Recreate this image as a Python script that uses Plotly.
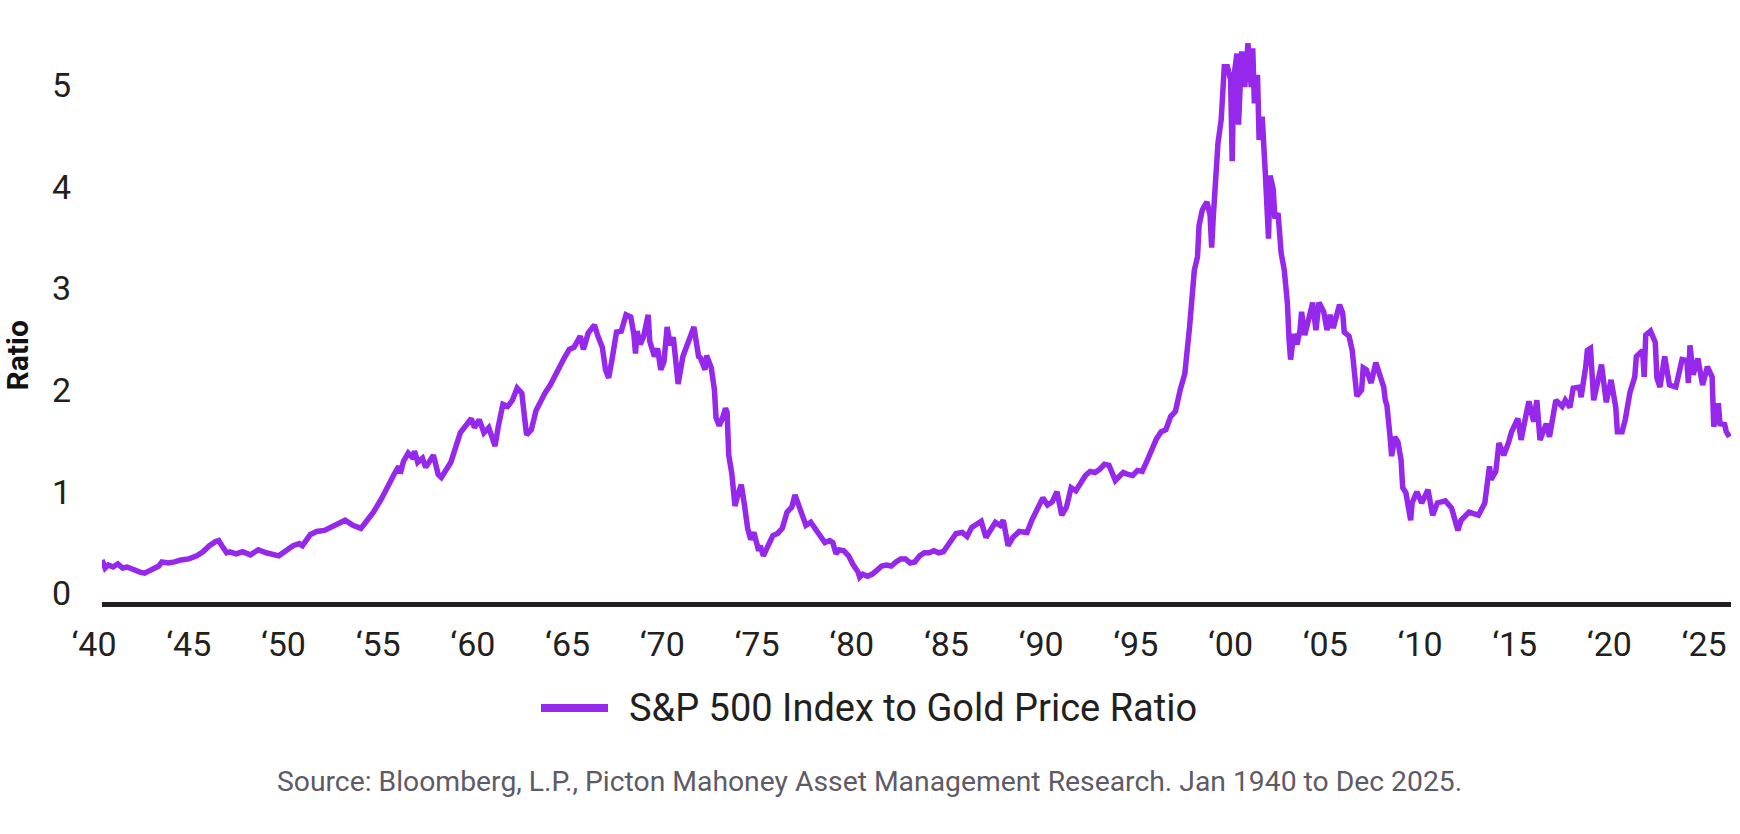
import plotly.graph_objects as go

dates = [
"1940-01","1940-03","1940-05","1940-08","1940-11","1941-02","1941-05","1941-09","1942-01","1942-04",
"1942-07","1942-10","1943-01","1943-03","1943-07","1943-11","1944-03","1944-08","1945-01","1945-05",
"1945-09","1946-01","1946-03","1946-05","1946-08","1946-10","1947-02","1947-06","1947-11","1948-04",
"1948-09","1949-05","1949-10","1950-02","1950-06","1950-08","1951-01","1951-05","1951-10","1952-03",
"1952-06","1952-11","1953-04","1953-09","1954-01","1954-05","1954-10","1955-02","1955-06","1955-09",
"1955-10","1955-12","1956-03","1956-06","1956-07","1956-09","1956-12","1957-02","1957-07","1957-10",
"1957-12","1958-06","1958-12","1959-07","1959-09","1959-12","1960-03","1960-06","1960-10","1960-12",
"1961-03","1961-06","1961-09","1961-12","1962-03","1962-06","1962-09","1962-12","1963-03","1963-06",
"1963-09","1963-12","1964-03","1964-06","1964-09","1964-12","1965-04","1965-06","1965-09","1965-12",
"1966-01","1966-03","1966-06","1966-08","1966-10","1966-12","1967-03","1967-06","1967-09","1967-12",
"1968-02","1968-03","1968-04","1968-06","1968-08","1968-11","1968-12","1969-03","1969-05","1969-07",
"1969-09","1969-11","1970-01","1970-03","1970-05","1970-06","1970-09","1970-12","1971-04","1971-07",
"1971-08","1971-11","1971-12","1972-03","1972-05","1972-06","1972-08","1972-10","1972-12","1973-01",
"1973-02","1973-04","1973-06","1973-08","1973-10","1973-12","1974-02","1974-04","1974-06","1974-09",
"1974-10","1974-12","1975-03","1975-06","1975-09","1975-12","1976-03","1976-06","1976-08","1976-12",
"1977-03","1977-06","1977-09","1977-12","1978-03","1978-06","1978-08","1978-10","1978-12","1979-03",
"1979-06","1979-09","1979-12","1980-01","1980-03","1980-06","1980-09","1980-12","1981-03","1981-06",
"1981-09","1981-12","1982-03","1982-06","1982-09","1982-12","1983-03","1983-06","1983-09","1983-12",
"1984-03","1984-06","1984-09","1984-12","1985-02","1985-06","1985-09","1985-12","1986-03","1986-06",
"1986-09","1986-12","1987-03","1987-06","1987-08","1987-11","1988-02","1988-06","1988-11","1989-02",
"1989-06","1989-09","1989-12","1990-03","1990-06","1990-09","1990-12","1991-03","1991-06","1991-09",
"1991-12","1992-03","1992-06","1992-09","1992-12","1993-03","1993-07","1993-10","1993-12","1994-03",
"1994-06","1994-09","1994-12","1995-03","1995-06","1995-09","1995-12","1996-03","1996-06","1996-09",
"1996-12","1997-03","1997-06","1997-08","1997-09","1997-11","1997-12","1998-02","1998-05","1998-07",
"1998-08","1998-09","1998-11","1998-12","1999-02","1999-04","1999-06","1999-08","1999-09","1999-10",
"1999-12","2000-01","2000-03","2000-05","2000-07","2000-09","2000-10","2000-11","2001-01","2001-02",
"2001-04","2001-05","2001-06","2001-08","2001-09","2001-11","2001-12","2002-02","2002-04","2002-06",
"2002-08","2002-09","2002-10","2002-12","2003-02","2003-04","2003-05","2003-07","2003-12","2004-02",
"2004-04","2004-07","2004-09","2004-11","2005-01","2005-05","2005-07","2005-08","2005-11","2006-01",
"2006-02","2006-04","2006-07","2006-08","2006-10","2007-01","2007-04","2007-09","2007-10","2007-11",
"2008-01","2008-02","2008-04","2008-06","2008-08","2008-09","2008-11","2009-02","2009-03","2009-06",
"2009-09","2010-01","2010-04","2010-07","2010-12","2011-04","2011-08","2011-10","2012-03","2012-09",
"2013-01","2013-02","2013-04","2013-05","2013-08","2013-10","2014-01","2014-04","2014-06","2014-10",
"2014-12","2015-02","2015-05","2015-08","2015-10","2015-12","2016-04","2016-06","2016-10","2017-02",
"2017-04","2017-07","2017-09","2018-01","2018-02","2018-05","2018-06","2018-08","2018-10","2019-03",
"2019-06","2019-09","2019-12","2020-01","2020-04","2020-06","2020-09","2020-12","2021-01","2021-05",
"2021-06","2021-07","2021-10","2022-01","2022-02","2022-04","2022-07","2022-10","2023-02","2023-06",
"2023-09","2023-10","2023-11","2024-01","2024-04","2024-07","2024-10","2025-01","2025-02","2025-05",
"2025-06","2025-09","2025-10","2025-12",
]

ratio = [
0.33,0.25,0.28,0.26,0.29,0.25,0.26,0.23,0.21,0.20,
0.22,0.24,0.27,0.31,0.30,0.31,0.33,0.34,0.37,0.41,
0.47,0.51,0.52,0.47,0.40,0.41,0.39,0.41,0.38,0.43,
0.40,0.37,0.42,0.47,0.49,0.47,0.58,0.61,0.62,0.66,
0.69,0.72,0.67,0.64,0.72,0.80,0.93,1.06,1.17,1.25,
1.18,1.30,1.38,1.33,1.40,1.29,1.33,1.24,1.36,1.17,
1.14,1.29,1.58,1.72,1.63,1.71,1.58,1.63,1.45,1.64,
1.86,1.84,1.90,2.02,1.97,1.56,1.61,1.80,1.90,1.98,
2.05,2.14,2.25,2.32,2.40,2.42,2.53,2.40,2.56,2.62,
2.64,2.54,2.42,2.20,2.12,2.29,2.57,2.58,2.74,2.72,
2.54,2.36,2.58,2.45,2.52,2.74,2.48,2.33,2.41,2.20,
2.28,2.62,2.44,2.52,2.16,2.06,2.33,2.46,2.62,2.33,
2.32,2.20,2.34,2.22,2.00,1.73,1.65,1.72,1.82,1.78,
1.36,1.18,0.86,0.98,1.07,0.87,0.64,0.53,0.60,0.42,
0.47,0.37,0.47,0.57,0.59,0.64,0.80,0.85,0.97,0.80,
0.67,0.70,0.63,0.58,0.50,0.52,0.50,0.39,0.43,0.42,
0.37,0.28,0.21,0.16,0.19,0.17,0.19,0.23,0.27,0.28,
0.27,0.31,0.34,0.34,0.30,0.31,0.37,0.40,0.40,0.42,
0.40,0.41,0.48,0.53,0.59,0.60,0.56,0.65,0.68,0.71,
0.55,0.62,0.70,0.67,0.72,0.47,0.55,0.61,0.60,0.72,
0.86,0.94,0.87,0.90,1.00,0.77,0.85,1.04,1.01,1.10,
1.16,1.20,1.19,1.22,1.27,1.26,1.11,1.16,1.19,1.17,
1.16,1.21,1.20,1.30,1.42,1.52,1.59,1.61,1.74,1.79,
2.00,2.16,2.62,2.95,3.18,3.31,3.62,3.77,3.85,3.72,
3.40,3.70,4.23,4.43,4.66,5.18,5.18,5.05,4.25,5.07,
5.31,4.61,5.33,4.98,5.41,4.98,5.36,4.82,5.10,4.46,
4.69,4.49,4.13,3.49,4.11,3.97,3.69,3.74,3.35,3.18,
2.85,2.50,2.30,2.55,2.45,2.59,2.77,2.54,2.86,2.59,
2.86,2.77,2.59,2.74,2.61,2.84,2.76,2.57,2.53,2.39,
2.20,1.94,2.00,2.22,2.20,2.07,2.27,2.03,1.90,1.85,
1.54,1.35,1.54,1.49,1.31,1.04,0.99,0.72,0.89,1.00,
0.89,1.02,0.77,0.89,0.91,0.84,0.62,0.72,0.80,0.77,
0.89,1.05,1.25,1.12,1.20,1.48,1.36,1.48,1.59,1.72,
1.51,1.67,1.89,1.69,1.90,1.51,1.67,1.54,1.90,1.84,
1.90,1.83,2.02,2.03,1.93,2.23,2.39,2.41,1.90,2.25,
1.88,2.10,1.83,1.59,1.59,1.71,1.98,2.13,2.33,2.39,
2.13,2.54,2.58,2.47,2.12,2.03,2.33,2.05,2.03,2.30,
2.29,2.07,2.44,2.15,2.31,2.05,2.23,2.13,1.64,1.87,
1.67,1.66,1.59,1.54,
]

tick_years = list(range(1940, 2026, 5))
tick_vals = [f"{y}-01-01" for y in tick_years]
tick_text = ["\u2018" + f"{y % 100:02d}" for y in tick_years]
y_ticks = [0, 1, 2, 3, 4, 5]

series_name = "S&P 500 Index to Gold Price Ratio"
source_text = "Source: Bloomberg, L.P., Picton Mahoney Asset Management Research. Jan 1940 to Dec 2025."

PURPLE = "#9528EA"
DARK = "#231F20"

fig = go.Figure()
fig.add_trace(go.Scatter(
    x=dates, y=ratio, mode="lines", name=series_name,
    line=dict(color=PURPLE, width=5.5), showlegend=False,
))

fig.update_layout(
    width=1740, height=834,
    margin=dict(l=102, r=9, t=24, b=232),
    paper_bgcolor="white", plot_bgcolor="white",
    font=dict(family="Roboto", color=DARK),
    xaxis=dict(
        type="date", range=["1940-01-01", "2025-12-31"],
        tickmode="array", tickvals=tick_vals, ticktext=tick_text,
        tickfont=dict(size=34, color=DARK, family="Roboto"),
        showgrid=False, zeroline=False,
        showline=True, linecolor=DARK, linewidth=5,
        ticks="", ticklabelstandoff=8, ticklabelshift=-8,
    ),
    yaxis=dict(
        range=[-0.084, 5.6],
        tickmode="array", tickvals=y_ticks, ticktext=[str(v) for v in y_ticks],
        tickfont=dict(size=34, color=DARK, family="Roboto"),
        showgrid=False, zeroline=False, showline=False,
        ticks="", ticklabelstandoff=30,
    ),
    annotations=[
        dict(text="<b>Ratio</b>", textangle=-90, xref="paper", yref="paper",
             x=-0.052, y=0.427, showarrow=False, xanchor="center", yanchor="middle",
             font=dict(size=30, color="#111111", family="Roboto")),
        dict(text=series_name, xref="paper", yref="paper",
             x=(627 - 102) / 1629, y=(602 - 708) / 578, showarrow=False,
             xanchor="left", yanchor="middle",
             font=dict(size=38, color=DARK, family="Roboto")),
        dict(text=source_text, xref="paper", yref="paper",
             x=(869 - 102) / 1629, y=(602 - 781) / 578, showarrow=False,
             xanchor="center", yanchor="middle",
             font=dict(size=28.3, color="#5E5A66", family="Roboto")),
    ],
    shapes=[
        dict(type="line", xref="paper", yref="paper",
             x0=(541 - 102) / 1629, x1=(608 - 102) / 1629,
             y0=(602 - 708) / 578, y1=(602 - 708) / 578,
             line=dict(color=PURPLE, width=8)),
    ],
)

fig.write_html("out.html", config={"displayModeBar": False},
               post_script="document.body.style.margin='0px';")
